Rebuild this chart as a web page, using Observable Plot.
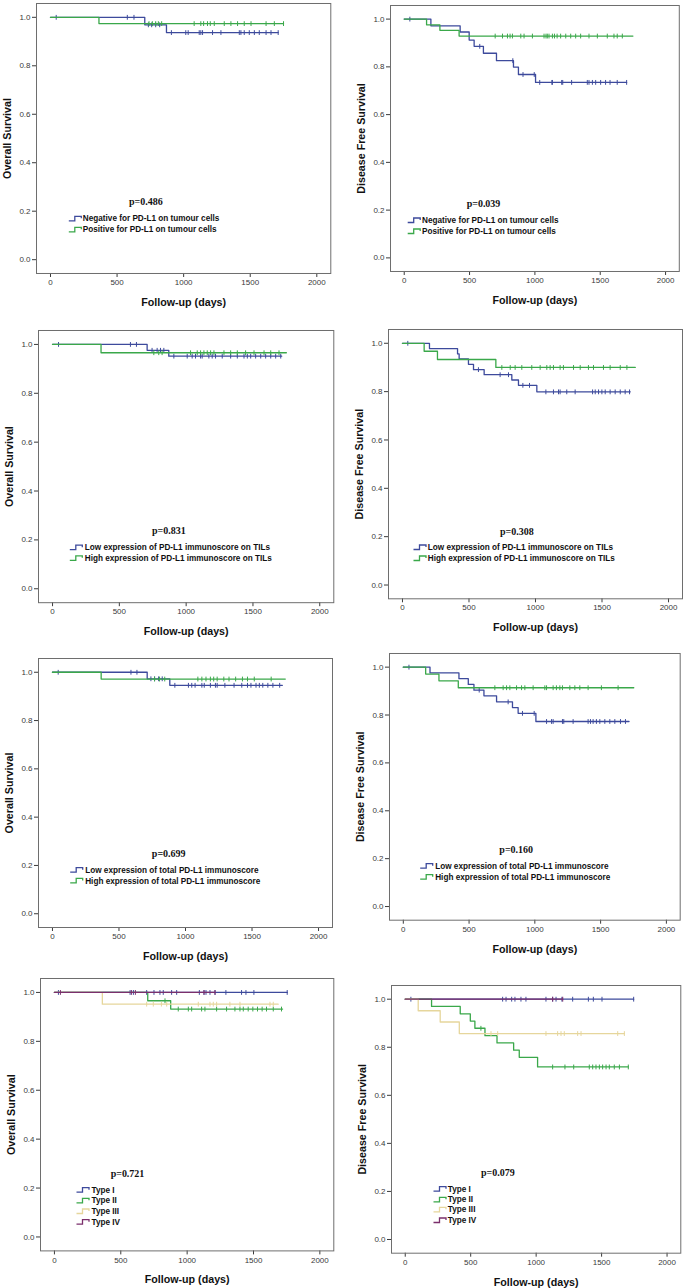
<!DOCTYPE html>
<html><head><meta charset="utf-8">
<script src="https://cdn.jsdelivr.net/npm/d3@7"></script>
<script src="https://cdn.jsdelivr.net/npm/@observablehq/plot@0.6"></script>
<style>
body{margin:0;background:#fff;}
#root{position:relative;width:685px;height:1288px;overflow:hidden;background:#fff;}
</style></head><body><div id="root"></div>
<script>
// ---------- axis ticks ----------
const xTicks = [0, 500, 1000, 1500, 2000];
const yTicks = [0, 0.2, 0.4, 0.6, 0.8, 1.0];
const xTitle = "Follow-up (days)";
const yTitles = ["Overall Survival", "Disease Free Survival"];

// ---------- group labels ----------
const groupsTumour = ["Negative for PD-L1 on tumour cells", "Positive for PD-L1 on tumour cells"];
const groupsTILs = ["Low expression of PD-L1 immunoscore on TILs", "High expression of PD-L1 immunoscore on TILs"];
const groupsTotal = ["Low expression of total PD-L1 immunoscore", "High expression of total PD-L1 immunoscore"];
const groupsType = ["Type I", "Type II", "Type III", "Type IV"];
const pValues = ["p=0.486", "p=0.039", "p=0.831", "p=0.308", "p=0.699", "p=0.160", "p=0.721", "p=0.079"];

// ---------- KM curves: [time (days), survival after time] ; censor times ----------
// Panel 1: OS by PD-L1 on tumour cells
const os_tum_neg = [[0,1],[708,0.969],[871,0.937],[1710,0.937]];
const os_tum_neg_c = [43,577,627,735,760,790,820,908,1016,1034,1117,1129,1142,1217,1280,1418,1430,1455,1493,1531,1568,1619,1656,1710];
const os_tum_pos = [[0,1],[364,0.974],[1750,0.974]];
const os_tum_pos_c = [740,765,790,810,835,1079,1129,1150,1179,1200,1230,1305,1355,1405,1455,1506,1619,1681,1750];
// Panel 2: DFS by PD-L1 on tumour cells
const dfs_tum_neg = [[0,1],[204,0.972],[428,0.946],[497,0.912],[535,0.886],[606,0.857],[706,0.826],[836,0.799],[874,0.768],[1005,0.735],[1702,0.735]];
const dfs_tum_neg_c = [43,578,831,909,995,1037,1130,1134,1205,1213,1281,1401,1414,1440,1465,1503,1541,1575,1630,1702];
const dfs_tum_pos = [[0,1],[171,0.976],[273,0.953],[420,0.929],[1750,0.929]];
const dfs_tum_pos_c = [696,752,790,810,828,892,917,981,1070,1085,1095,1108,1134,1150,1170,1197,1236,1274,1312,1350,1414,1478,1554,1605,1630,1669];
// Panel 3: OS by PD-L1 immunoscore on TILs
const os_til_low = [[0,1],[708,0.976],[870,0.952],[1715,0.952]];
const os_til_low_c = [45,583,628,745,783,808,833,908,1008,1045,1070,1108,1120,1170,1195,1220,1270,1333,1383,1433,1458,1483,1520,1558,1595,1633,1670,1708];
const os_til_high = [[0,1],[363,0.966],[1750,0.966]];
const os_til_high_c = [758,795,820,1033,1083,1108,1133,1158,1183,1208,1283,1333,1383,1445,1508,1583,1633,1695];
// Panel 4: DFS by PD-L1 immunoscore on TILs
const dfs_til_low = [[0,1],[203,0.978],[414,0.956],[426,0.935],[496,0.913],[534,0.891],[614,0.870],[822,0.848],[872,0.826],[1010,0.799],[1712,0.799]];
const dfs_til_low_c = [40,571,734,797,905,955,1078,1135,1173,1185,1235,1298,1429,1449,1474,1499,1524,1561,1599,1637,1674,1707];
const dfs_til_high = [[0,1],[163,0.967],[263,0.933],[702,0.900],[1750,0.900]];
const dfs_til_high_c = [747,810,847,897,972,1035,1085,1110,1135,1185,1210,1286,1336,1398,1436,1511,1561,1637,1687];
// Panel 5: OS by total PD-L1 immunoscore
const os_tot_low = [[0,1],[712,0.973],[882,0.946],[1728,0.946]];
const os_tot_low_c = [43,590,635,740,768,798,825,920,1022,1047,1072,1123,1141,1187,1225,1238,1296,1365,1423,1466,1492,1530,1555,1581,1619,1657,1708];
const os_tot_high = [[0,1],[366,0.972],[1750,0.972]];
const os_tot_high_c = [767,805,844,1093,1123,1154,1187,1212,1238,1288,1327,1377,1428,1466,1517,1644];
// Panel 6: DFS by total PD-L1 immunoscore
const dfs_tot_low = [[0,1],[203,0.976],[423,0.952],[494,0.928],[537,0.904],[613,0.880],[709,0.855],[830,0.831],[873,0.807],[1008,0.773],[1716,0.773]];
const dfs_tot_low_c = [43,577,797,906,995,1089,1127,1139,1210,1220,1291,1405,1423,1443,1468,1494,1532,1570,1608,1651,1689];
const dfs_tot_high = [[0,1],[170,0.971],[271,0.943],[418,0.914],[1752,0.914]];
const dfs_tot_high_c = [696,759,785,810,861,899,924,987,1076,1089,1139,1164,1190,1210,1266,1304,1342,1405,1506,1633];
// Panel 7: OS by type
const os_t1 = [[0,1],[1754,1]];
const os_t1_c = [30,570,595,695,750,795,820,883,921,1092,1127,1142,1172,1210,1292,1410,1443,1503,1754];
const os_t2 = [[0,1],[703,0.966],[876,0.932],[1719,0.932]];
const os_t2_c = [833,933,1009,1034,1109,1134,1222,1297,1360,1398,1423,1460,1495,1530,1565,1598,1649,1711];
const os_t3 = [[0,1],[361,0.952],[1686,0.952]];
const os_t3_c = [695,745,806,846,1084,1172,1197,1222,1322,1398,1624,1649];
const os_t4 = [[0,1],[1210,1]];
const os_t4_c = [45,580,610,1127,1210];
// Panel 8: DFS by type
const dfs_t1 = [[0,1],[1745,1]];
const dfs_t1_c = [43,744,770,813,838,884,922,1075,1126,1152,1197,1279,1399,1437,1503,1745];
const dfs_t2 = [[0,1],[201,0.970],[420,0.939],[497,0.909],[532,0.879],[609,0.848],[701,0.818],[828,0.788],[871,0.758],[1011,0.718],[1704,0.718]];
const dfs_t2_c = [578,1126,1220,1287,1406,1432,1457,1483,1508,1534,1559,1597,1636,1704];
const dfs_t3 = [[0,1],[99,0.952],[267,0.905],[413,0.857],[1674,0.857]];
const dfs_t3_c = [655,706,1075,1164,1190,1215,1317,1343,1623,1674];
const dfs_t4 = [[0,1],[1203,1]];
const dfs_t4_c = [1126,1203];

// ---------- styling / layout ----------
const colors = ["#3d4a9c", "#3aa84a", "#e6d69c", "#7b2f6c"];
const frameStroke = "#6e6e6e";
const font = "Arial, 'Liberation Sans', sans-serif";

const panels = [
  {frame:[35.7,2.7,330,272.7], yTitle:yTitles[0], p:pValues[0], pPos:[109.3,198.3], gx:32.3, tx:46.3, rows:[215.3,226.3], labels:groupsTumour,
   curves:[[os_tum_neg,os_tum_neg_c],[os_tum_pos,os_tum_pos_c]]},
  {frame:[389.5,5,678.3,271], yTitle:yTitles[1], p:pValues[1], pPos:[93,198], gx:17.2, tx:31.5, rows:[215,226], labels:groupsTumour,
   curves:[[dfs_tum_neg,dfs_tum_neg_c],[dfs_tum_pos,dfs_tum_pos_c]]},
  {frame:[37.7,329.5,333,601.7], yTitle:yTitles[0], p:pValues[2], pPos:[130.3,200.5], gx:31.3, tx:46.3, rows:[217.2,227.8], labels:groupsTILs,
   curves:[[os_til_low,os_til_low_c],[os_til_high,os_til_high_c]]},
  {frame:[387.7,328.7,681.7,598], yTitle:yTitles[1], p:pValues[3], pPos:[128.3,202], gx:25, tx:39.3, rows:[218,229], labels:groupsTILs,
   curves:[[dfs_til_low,dfs_til_low_c],[dfs_til_high,dfs_til_high_c]]},
  {frame:[38.3,658.3,332.3,927.3], yTitle:yTitles[0], p:pValues[4], pPos:[130.2,195], gx:31.7, tx:46.7, rows:[211.7,222.4], labels:groupsTotal,
   curves:[[os_tot_low,os_tot_low_c],[os_tot_high,os_tot_high_c]]},
  {frame:[389.3,653.3,680,920], yTitle:yTitles[1], p:pValues[5], pPos:[126.7,196.7], gx:30.7, tx:45.7, rows:[212.7,223.7], labels:groupsTotal,
   curves:[[dfs_tot_low,dfs_tot_low_c],[dfs_tot_high,dfs_tot_high_c]]},
  {frame:[40,978.3,333.3,1250.7], yTitle:yTitles[0], p:pValues[6], pPos:[87,195], gx:36, tx:51, rows:[211.7,222.3,233,243.7], labels:groupsType,
   curves:[[os_t1,os_t1_c],[os_t2,os_t2_c],[os_t3,os_t3_c],[os_t4,os_t4_c]]},
  {frame:[390.7,985,680,1252.7], yTitle:yTitles[1], p:pValues[7], pPos:[106.3,187], gx:42, tx:56.3, rows:[203.7,214.3,224.3,235], labels:groupsType,
   curves:[[dfs_t1,dfs_t1_c],[dfs_t2,dfs_t2_c],[dfs_t3,dfs_t3_c],[dfs_t4,dfs_t4_c]]}
];

const censorSymbol = {draw(ctx) { ctx.moveTo(0, -2.4); ctx.lineTo(0, 2.4); }};
const legendSymbol = {draw(ctx) { ctx.moveTo(0, 2); ctx.lineTo(6, 2); ctx.lineTo(6, -2.5); ctx.lineTo(12.5, -2.5); ctx.lineTo(12.5, -0.5); }};

function stepAt(curve, t) { let s = 1; for (const [tt, ss] of curve) if (tt <= t) s = ss; return s; }

const root = document.getElementById("root");
const mL = 45, mT = 10, mR = 10, mB = 40;

for (const P of panels) {
  const [L, T, R, B] = P.frame;
  const marks = [];
  P.curves.forEach(([curve, cens], i) => {
    const pts = curve.map(([t, s]) => ({t, s}));
    marks.push(Plot.line(pts, {x: "t", y: "s", curve: "step-after", stroke: colors[i], strokeWidth: 1.3}));
    const cpts = cens.map(t => ({t, s: stepAt(curve, t)}));
    marks.push(Plot.dot(cpts, {x: "t", y: "s", symbol: censorSymbol, stroke: colors[i], fill: "none", strokeWidth: 1}));
  });
  marks.push(Plot.frame({stroke: frameStroke, strokeWidth: 1}));
  marks.push(Plot.text([P.yTitle], {frameAnchor: "left", dx: -29, rotate: -90, textAnchor: "middle", lineAnchor: "middle", fontWeight: "bold", fontSize: 10.7, fill: "#111"}));
  marks.push(Plot.text([xTitle], {frameAnchor: "bottom", dy: 29, textAnchor: "middle", lineAnchor: "middle", fontWeight: "bold", fontSize: 10.7, fill: "#111"}));
  marks.push(Plot.text([P.p], {frameAnchor: "top-left", dx: P.pPos[0], dy: P.pPos[1], textAnchor: "middle", lineAnchor: "middle", fontFamily: "'Liberation Serif', 'Times New Roman', serif", fontWeight: "bold", fontSize: 10, fill: "#111"}));
  P.labels.forEach((lab, i) => {
    marks.push(Plot.dot([lab], {frameAnchor: "top-left", dx: P.gx, dy: P.rows[i], symbol: legendSymbol, stroke: colors[i], fill: "none", strokeWidth: 1.3}));
    marks.push(Plot.text([lab], {frameAnchor: "top-left", dx: P.tx, dy: P.rows[i], textAnchor: "start", lineAnchor: "middle", fontWeight: "bold", fontSize: 8.2, fill: "#111"}));
  });
  const svg = Plot.plot({
    width: (R - L) + mL + mR,
    height: (B - T) + mT + mB,
    marginLeft: mL, marginTop: mT, marginRight: mR, marginBottom: mB,
    style: {background: "transparent", overflow: "visible", fontFamily: font, fontSize: "8px", color: "#3a3a3a"},
    x: {domain: [-105, 2105], ticks: xTicks, tickFormat: d => String(d), tickSize: 4, tickPadding: 2, label: null},
    y: {domain: [-0.057, 1.057], ticks: yTicks, tickFormat: d => d.toFixed(1), tickSize: 4, tickPadding: 2, label: null},
    marks
  });
  svg.style.position = "absolute";
  svg.style.left = (L - mL) + "px";
  svg.style.top = (T - mT) + "px";
  svg.style.maxWidth = "none";
  root.appendChild(svg);
}
</script></body></html>
